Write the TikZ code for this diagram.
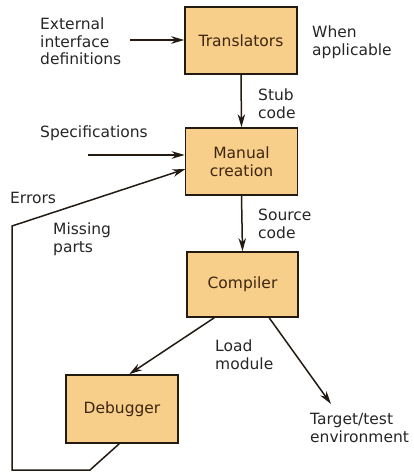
\documentclass[tikz,border=0pt]{standalone}
\usepackage{fontspec}
\setmainfont{DejaVu Sans}
\usetikzlibrary{arrows.meta,calc}
\definecolor{boxfill}{HTML}{F7CF8A}
\definecolor{boxline}{HTML}{231A12}
\definecolor{boxtext}{HTML}{3E250F}
\definecolor{labtext}{HTML}{262626}
\begin{document}
\begin{tikzpicture}[x=1pt,y=-1pt,
  procbox/.style={draw=boxline,line width=1.6pt,fill=boxfill,text=boxtext,
    minimum width=112pt,minimum height=67pt,inner sep=0pt,align=center,
    font=\fontsize{15.5}{17.7}\selectfont},
  lab/.style={anchor=west,align=left,inner sep=0pt,text=labtext,
    font=\fontsize{15.5}{17.7}\selectfont},
  conn/.style={draw=boxline,line width=1.5pt},
  arr/.style={conn,-{Stealth[length=13pt,width=7.5pt,inset=4pt]}}]
\useasboundingbox (0,0) rectangle (414,472);
% boxes
\node[procbox] (trans) at (241,40.5) {Translators};
\node[procbox] (manual) at (241.5,161.5) {Manual\\creation};
\node[procbox,minimum width=111pt,minimum height=65pt] (comp) at (242.5,284.5) {Compiler};
\node[procbox,minimum height=68pt] (debug) at (122,409) {Debugger};
% labels
\node[lab] (ext) at (40,41.5) {External\\interface\\definitions};
\node[lab] (when) at (312,42) {When\\applicable};
\node[lab] (stub) at (258,103.5) {Stub\\code};
\node[lab] (spec) at (40,133) {Specifications};
\node[lab] (err) at (10,198) {Errors};
\node[lab] (miss) at (53,239) {Missing\\parts};
\node[lab] (src) at (258,224) {Source\\code};
\node[lab] (load) at (215,355) {Load\\module};
\node[lab] (targ) at (310,428) {Target/test\\environment};
% coordinates
\coordinate (e1) at (130,40);
\coordinate (s1) at (88,155);
\coordinate (f1) at (90,470);
\coordinate (f2) at (12,470);
\coordinate (f3) at (12,226);
\coordinate (f4) at (185.5,169);
\coordinate (t1) at (331,404);
% connectors
\draw[arr] (e1) -- (e1 -| trans.west);
\draw[arr] (trans.south) -- (manual.north);
\draw[arr] (s1) -- (s1 -| manual.west);
\draw[arr] (manual.south) -- (comp.north);
\draw[arr] ($(comp.south west)+(28,0)$) -- ($(debug.north west)+(64,0)$);
\draw[arr] ($(comp.south west)+(83,0)$) -- (t1);
\draw[arr] ($(debug.south west)+(54,0)$) -- (f1) -- (f2) -- (f3) -- (f4);
\end{tikzpicture}
\end{document}
